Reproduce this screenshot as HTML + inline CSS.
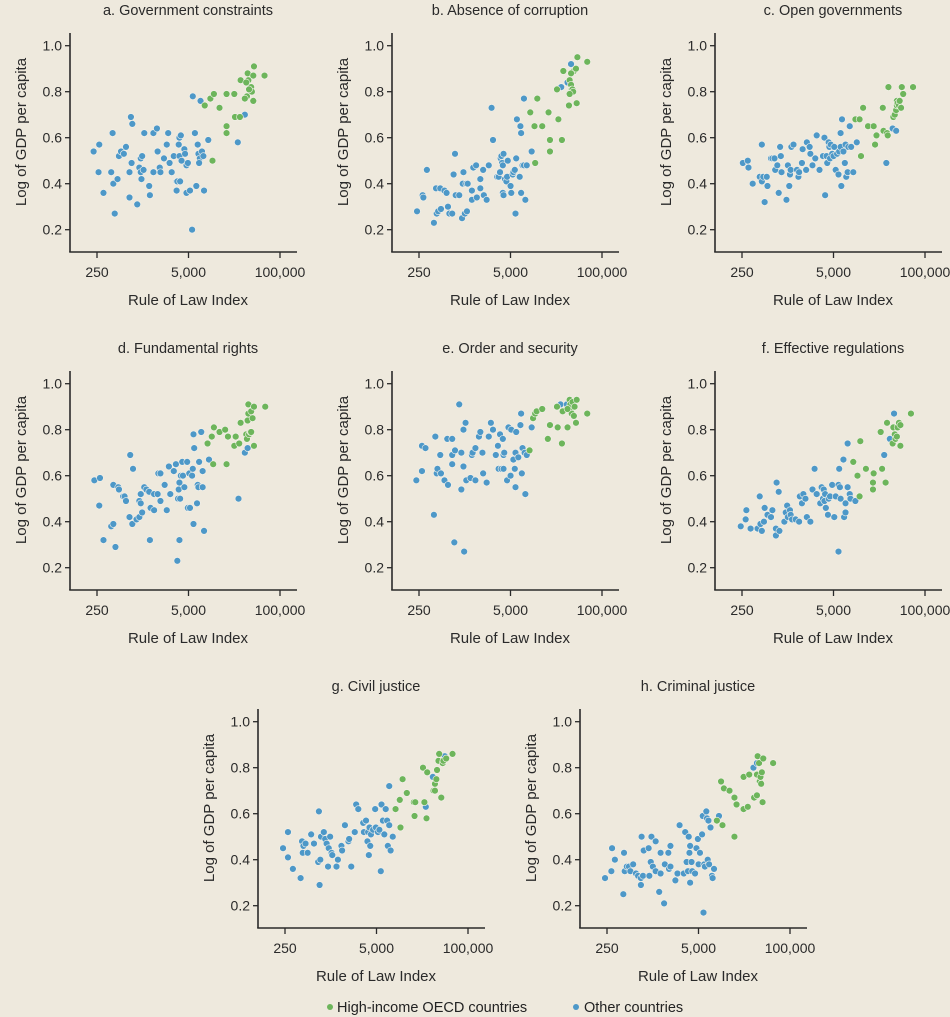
<!DOCTYPE html>
<html><head><meta charset="utf-8">
<style>
html,body{margin:0;padding:0;background:#eee9dd;}
svg{display:block;font-family:"Liberation Sans",sans-serif;}
</style></head>
<body>
<svg id="chart" width="950" height="1017" viewBox="0 0 950 1017">
<rect x="0" y="0" width="950" height="1017" fill="#eee9dd"/>
<g id="legend">
<circle cx="330" cy="1007" r="3" fill="#6db55b"/>
<text x="337" y="1012" font-size="14.5" fill="#222">High-income OECD countries</text>
<circle cx="576" cy="1007" r="3" fill="#4d98c8"/>
<text x="584" y="1012" font-size="14.5" fill="#222">Other countries</text>
</g>
</svg>
<script>
const panelTitles=["a. Government constraints","b. Absence of corruption","c. Open governments","d. Fundamental rights","e. Order and security","f. Effective regulations","g. Civil justice","h. Criminal justice"];
const yTicks=[0.2,0.4,0.6,0.8,1.0];
const yTickLabels=["0.2","0.4","0.6","0.8","1.0"];
const xTicks=[250,5000,100000];
const xTickLabels=["250","5,000","100,000"];
// points: [log10(Rule of Law Index), log of GDP per capita]
const otherA=[[2.35,.54],[2.43,.57],[2.42,.45],[2.49,.36],[2.60,.45],[2.62,.62],[2.63,.40],[2.65,.27],[2.69,.42],[2.71,.52],[2.74,.54],[2.78,.53],[2.81,.56],[2.86,.45],[2.88,.69],[2.90,.66],[2.86,.34],[2.89,.49],[2.97,.31],[3.00,.47],[3.02,.51],[3.02,.45],[3.03,.42],[3.04,.52],[3.06,.46],[3.07,.62],[3.14,.39],[3.15,.35],[3.20,.45],[3.20,.62],[3.25,.64],[3.26,.54],[3.29,.47],[3.30,.45],[3.35,.51],[3.39,.57],[3.41,.62],[3.43,.49],[3.49,.52],[3.46,.45],[3.53,.37],[3.53,.41],[3.54,.41],[3.56,.57],[3.57,.60],[3.57,.52],[3.58,.41],[3.60,.50],[3.59,.61],[3.64,.55],[3.65,.53],[3.67,.48],[3.67,.36],[3.72,.37],[3.69,.49],[3.79,.62],[3.83,.57],[3.84,.53],[3.86,.51],[3.85,.49],[3.89,.54],[3.91,.52],[3.92,.37],[3.98,.59],[3.76,.78],[3.87,.76],[3.75,.20],[4.50,.70],[4.40,.58],[3.81,.39]];
const oecdA=[[3.93,.74],[4.01,.77],[4.06,.79],[4.14,.73],[4.24,.79],[4.24,.65],[4.24,.62],[4.04,.50],[4.35,.79],[4.36,.69],[4.43,.69],[4.44,.85],[4.54,.88],[4.55,.85],[4.56,.81],[4.53,.78],[4.50,.77],[4.59,.82],[4.62,.87],[4.63,.91],[4.60,.80],[4.62,.76],[4.52,.84],[4.56,.81],[4.78,.87]];
const otherB=[[2.37,.28],[2.45,.35],[2.46,.34],[2.51,.46],[2.61,.23],[2.64,.38],[2.65,.27],[2.67,.28],[2.70,.38],[2.71,.29],[2.76,.37],[2.79,.36],[2.81,.30],[2.83,.27],[2.87,.27],[2.89,.44],[2.91,.53],[2.92,.35],[2.97,.35],[3.01,.25],[3.02,.40],[3.03,.45],[3.05,.27],[3.07,.40],[3.08,.28],[3.09,.40],[3.15,.37],[3.15,.33],[3.17,.47],[3.21,.48],[3.22,.34],[3.27,.42],[3.27,.38],[3.31,.46],[3.32,.35],[3.36,.33],[3.39,.48],[3.43,.73],[3.45,.59],[3.51,.43],[3.53,.43],[3.55,.45],[3.56,.51],[3.57,.52],[3.58,.49],[3.59,.48],[3.60,.53],[3.62,.42],[3.59,.36],[3.60,.35],[3.64,.41],[3.65,.43],[3.66,.50],[3.70,.39],[3.71,.36],[3.73,.44],[3.74,.45],[3.76,.46],[3.77,.27],[3.78,.51],[3.79,.68],[3.83,.43],[3.84,.65],[3.85,.62],[3.85,.36],[3.87,.48],[3.89,.48],[3.91,.33],[3.93,.48],[4.00,.54],[3.89,.77],[4.42,.82],[4.51,.84],[4.56,.92]];
const oecdB=[[4.05,.49],[4.08,.77],[3.98,.71],[4.04,.65],[4.15,.65],[4.24,.71],[4.26,.54],[4.26,.59],[4.38,.68],[4.43,.59],[4.36,.81],[4.45,.89],[4.53,.74],[4.54,.85],[4.56,.83],[4.57,.81],[4.58,.81],[4.59,.80],[4.60,.89],[4.63,.90],[4.64,.75],[4.65,.95],[4.79,.93],[4.56,.88],[4.54,.79]];
const otherC=[[2.41,.49],[2.48,.50],[2.49,.47],[2.55,.40],[2.65,.43],[2.68,.57],[2.68,.41],[2.70,.43],[2.72,.32],[2.75,.43],[2.76,.39],[2.81,.51],[2.83,.51],[2.86,.51],[2.87,.46],[2.90,.48],[2.92,.36],[2.94,.56],[2.95,.52],[2.96,.45],[3.03,.33],[3.05,.48],[3.07,.39],[3.08,.44],[3.09,.46],[3.10,.56],[3.13,.57],[3.18,.46],[3.20,.43],[3.21,.45],[3.25,.49],[3.26,.55],[3.31,.46],[3.32,.58],[3.36,.56],[3.37,.53],[3.40,.48],[3.44,.51],[3.46,.61],[3.50,.46],[3.55,.52],[3.57,.60],[3.58,.35],[3.60,.52],[3.61,.49],[3.63,.58],[3.64,.56],[3.65,.51],[3.66,.57],[3.68,.53],[3.70,.52],[3.71,.56],[3.73,.46],[3.75,.53],[3.77,.44],[3.78,.54],[3.80,.56],[3.80,.62],[3.81,.39],[3.82,.68],[3.84,.54],[3.86,.49],[3.87,.57],[3.88,.43],[3.90,.45],[3.91,.56],[3.93,.65],[3.95,.56],[3.98,.45],[4.03,.58],[4.45,.49],[4.54,.64],[4.59,.63]];
const oecdC=[[4.09,.52],[4.12,.73],[4.01,.68],[4.07,.68],[4.19,.65],[4.27,.65],[4.29,.57],[4.31,.61],[4.40,.73],[4.41,.63],[4.46,.62],[4.47,.61],[4.48,.82],[4.55,.69],[4.57,.70],[4.59,.72],[4.60,.76],[4.60,.74],[4.61,.75],[4.63,.74],[4.64,.76],[4.66,.73],[4.67,.82],[4.69,.79],[4.83,.82]];
const otherD=[[2.36,.58],[2.44,.59],[2.43,.47],[2.49,.32],[2.60,.38],[2.63,.39],[2.63,.56],[2.66,.29],[2.70,.55],[2.71,.54],[2.77,.51],[2.79,.51],[2.81,.49],[2.87,.69],[2.86,.42],[2.90,.39],[2.91,.63],[2.96,.41],[3.00,.42],[3.00,.49],[3.02,.52],[3.02,.48],[3.04,.44],[3.07,.55],[3.10,.54],[3.14,.53],[3.15,.32],[3.16,.46],[3.21,.45],[3.21,.52],[3.26,.52],[3.27,.61],[3.30,.61],[3.30,.49],[3.36,.56],[3.39,.45],[3.42,.64],[3.44,.52],[3.49,.62],[3.52,.65],[3.54,.23],[3.55,.50],[3.56,.54],[3.57,.32],[3.57,.57],[3.58,.50],[3.59,.60],[3.61,.66],[3.62,.60],[3.64,.55],[3.68,.66],[3.69,.46],[3.71,.61],[3.72,.46],[3.75,.60],[3.76,.63],[3.77,.39],[3.77,.78],[3.78,.72],[3.82,.48],[3.83,.56],[3.84,.55],[3.85,.66],[3.88,.79],[3.90,.55],[3.90,.62],[3.92,.36],[3.99,.67],[4.41,.50],[4.50,.70],[4.54,.72]];
const oecdD=[[3.97,.74],[4.03,.77],[4.05,.65],[4.06,.81],[4.14,.79],[4.22,.80],[4.24,.65],[4.26,.77],[4.35,.73],[4.37,.77],[4.42,.74],[4.44,.83],[4.52,.78],[4.53,.76],[4.54,.84],[4.55,.87],[4.55,.91],[4.56,.78],[4.58,.79],[4.59,.88],[4.59,.79],[4.61,.85],[4.63,.90],[4.63,.73],[4.79,.90]];
const otherE=[[2.36,.58],[2.44,.73],[2.44,.62],[2.49,.72],[2.61,.43],[2.63,.77],[2.65,.61],[2.66,.63],[2.70,.69],[2.71,.61],[2.76,.58],[2.80,.76],[2.81,.56],[2.87,.76],[2.87,.65],[2.87,.69],[2.90,.31],[2.91,.71],[2.97,.91],[3.00,.70],[3.00,.54],[3.03,.64],[3.03,.80],[3.04,.27],[3.06,.83],[3.07,.58],[3.13,.59],[3.15,.69],[3.16,.70],[3.20,.72],[3.20,.58],[3.25,.77],[3.27,.79],[3.30,.70],[3.31,.61],[3.36,.57],[3.39,.77],[3.42,.83],[3.45,.80],[3.49,.69],[3.52,.73],[3.53,.63],[3.55,.78],[3.57,.63],[3.59,.76],[3.60,.69],[3.60,.63],[3.61,.70],[3.65,.58],[3.67,.81],[3.70,.60],[3.71,.80],[3.74,.67],[3.76,.63],[3.77,.70],[3.77,.55],[3.78,.79],[3.81,.68],[3.84,.82],[3.85,.87],[3.86,.61],[3.87,.72],[3.90,.70],[3.91,.52],[3.93,.69],[4.00,.81],[4.41,.91],[4.50,.91]];
const oecdE=[[3.97,.71],[4.02,.85],[4.05,.87],[4.07,.88],[4.15,.89],[4.23,.76],[4.26,.82],[4.36,.90],[4.37,.81],[4.43,.74],[4.44,.88],[4.51,.81],[4.54,.93],[4.55,.91],[4.56,.88],[4.57,.87],[4.58,.92],[4.60,.86],[4.61,.90],[4.63,.83],[4.64,.93],[4.79,.87],[4.51,.89]];
const otherF=[[2.38,.38],[2.45,.41],[2.46,.45],[2.52,.37],[2.62,.37],[2.65,.51],[2.66,.39],[2.68,.36],[2.71,.40],[2.72,.46],[2.76,.43],[2.81,.42],[2.83,.45],[2.88,.34],[2.88,.37],[2.89,.57],[2.92,.53],[2.93,.36],[3.00,.40],[3.02,.44],[3.04,.47],[3.05,.42],[3.08,.45],[3.09,.43],[3.11,.41],[3.16,.41],[3.21,.40],[3.22,.51],[3.25,.48],[3.27,.52],[3.30,.50],[3.32,.42],[3.37,.40],[3.40,.54],[3.43,.63],[3.46,.52],[3.51,.48],[3.53,.55],[3.55,.50],[3.56,.54],[3.57,.49],[3.58,.52],[3.59,.46],[3.62,.43],[3.63,.50],[3.65,.51],[3.68,.56],[3.71,.42],[3.73,.51],[3.77,.56],[3.78,.63],[3.79,.55],[3.80,.50],[3.84,.67],[3.85,.42],[3.87,.44],[3.87,.48],[3.90,.74],[3.90,.55],[3.93,.52],[3.94,.50],[4.01,.49],[3.77,.27],[4.42,.69],[4.50,.76],[4.56,.87]];
const oecdF=[[3.98,.66],[4.04,.60],[4.07,.51],[4.08,.75],[4.16,.63],[4.26,.54],[4.26,.57],[4.27,.61],[4.37,.79],[4.39,.63],[4.44,.57],[4.46,.83],[4.54,.74],[4.55,.81],[4.57,.78],[4.58,.76],[4.60,.77],[4.61,.81],[4.63,.83],[4.65,.82],[4.65,.73],[4.80,.87]];
const otherG=[[2.37,.45],[2.44,.52],[2.44,.41],[2.51,.36],[2.62,.32],[2.64,.48],[2.65,.43],[2.66,.46],[2.69,.47],[2.72,.43],[2.77,.51],[2.81,.47],[2.87,.39],[2.88,.61],[2.89,.29],[2.90,.40],[2.91,.50],[2.95,.52],[2.97,.49],[2.99,.47],[3.01,.37],[3.02,.45],[3.04,.50],[3.06,.43],[3.07,.42],[3.13,.37],[3.15,.40],[3.20,.46],[3.21,.44],[3.25,.55],[3.30,.48],[3.31,.49],[3.34,.37],[3.39,.52],[3.41,.64],[3.44,.62],[3.51,.56],[3.52,.52],[3.55,.57],[3.57,.48],[3.58,.52],[3.59,.42],[3.60,.54],[3.61,.46],[3.62,.51],[3.65,.53],[3.68,.62],[3.69,.54],[3.72,.52],[3.74,.53],[3.76,.35],[3.77,.64],[3.79,.57],[3.81,.51],[3.83,.62],[3.85,.57],[3.86,.46],[3.88,.72],[3.88,.55],[3.90,.44],[3.93,.50],[4.40,.63],[4.50,.76],[4.67,.85]];
const oecdG=[[4.04,.54],[3.97,.62],[4.03,.66],[4.07,.75],[4.13,.69],[4.23,.65],[4.25,.65],[4.24,.59],[4.36,.80],[4.38,.65],[4.41,.58],[4.42,.78],[4.51,.70],[4.53,.73],[4.55,.75],[4.56,.79],[4.58,.83],[4.59,.86],[4.62,.67],[4.64,.82],[4.65,.83],[4.69,.84],[4.78,.86],[4.53,.70]];
const otherH=[[2.37,.32],[2.46,.35],[2.47,.45],[2.51,.40],[2.63,.25],[2.64,.43],[2.65,.35],[2.68,.37],[2.71,.37],[2.73,.35],[2.77,.38],[2.81,.34],[2.84,.33],[2.88,.32],[2.88,.29],[2.89,.50],[2.91,.33],[2.92,.44],[2.99,.45],[3.00,.33],[3.02,.39],[3.03,.50],[3.05,.37],[3.09,.48],[3.09,.35],[3.14,.26],[3.16,.43],[3.16,.34],[3.21,.21],[3.22,.38],[3.27,.43],[3.28,.36],[3.30,.37],[3.30,.46],[3.37,.31],[3.40,.34],[3.43,.55],[3.49,.34],[3.51,.52],[3.53,.39],[3.55,.35],[3.56,.50],[3.57,.43],[3.58,.30],[3.58,.46],[3.60,.39],[3.61,.35],[3.65,.34],[3.67,.45],[3.69,.49],[3.70,.38],[3.72,.43],[3.75,.51],[3.76,.59],[3.77,.17],[3.78,.38],[3.79,.37],[3.81,.61],[3.82,.58],[3.83,.40],[3.84,.57],[3.85,.38],[3.87,.54],[3.89,.33],[3.90,.32],[3.92,.36],[3.99,.59],[4.48,.80],[4.53,.82]];
const oecdH=[[3.96,.57],[4.04,.55],[4.02,.74],[4.06,.71],[4.14,.70],[4.21,.67],[4.21,.50],[4.24,.64],[4.34,.62],[4.34,.76],[4.40,.63],[4.42,.77],[4.49,.67],[4.53,.68],[4.53,.77],[4.54,.85],[4.56,.82],[4.57,.74],[4.58,.76],[4.59,.73],[4.60,.78],[4.61,.65],[4.62,.84],[4.76,.82]];

const otherSets=[otherA,otherB,otherC,otherD,otherE,otherF,otherG,otherH];
const oecdSets=[oecdA,oecdB,oecdC,oecdD,oecdE,oecdF,oecdG,oecdH];
const panelOrigins=[[0,0],[322,0],[645,0],[0,338],[322,338],[645,338],[188,676],[510,676]];

const NS="http://www.w3.org/2000/svg";
const svg=document.getElementById('chart');
const legend=document.getElementById('legend');
const X0=70,X1=297,Y0=33,YB=252;
function xScale(lg){return 97+(lg-Math.log10(250))*(183/(5-Math.log10(250)));}
function yScale(v){return 45.7+(1-v)*230;}
function mk(tag,attrs,parent){const e=document.createElementNS(NS,tag);for(const k in attrs)e.setAttribute(k,attrs[k]);parent.appendChild(e);return e;}
const BLUE="#4d98c8",GREEN="#6db55b",INK="#2a2a2a";
panelTitles.forEach((title,i)=>{
  const [ox,oy]=panelOrigins[i];
  const g=mk('g',{transform:`translate(${ox},${oy})`},svg);
  
  
  const t=mk('text',{x:188,y:15,'text-anchor':'middle','font-size':14.5,fill:INK},g);
  t.textContent=title;
  
  
  const ya=mk('line',{x1:X0,y1:Y0,x2:X0,y2:YB,stroke:INK,'stroke-width':1.6},g);
  
  
  const xa=mk('line',{x1:X0-0.8,y1:YB,x2:X1,y2:YB,stroke:INK,'stroke-width':1.6},g);
  
  
  yTicks.forEach((v,j)=>{
    const y=yScale(v);
    const tk=mk('line',{x1:X0-5,y1:y,x2:X0,y2:y,stroke:INK,'stroke-width':1.3},g);
    
    
    const lb=mk('text',{x:X0-8,y:y+5,'text-anchor':'end','font-size':14,fill:INK},g);
    lb.textContent=yTickLabels[j];
    
    
  });
  xTicks.forEach((v,j)=>{
    const x=xScale(Math.log10(v));
    const tk=mk('line',{x1:x,y1:YB,x2:x,y2:YB+6,stroke:INK,'stroke-width':1.3},g);
    
    
    const lb=mk('text',{x:x,y:YB+25,'text-anchor':'middle','font-size':14,fill:INK},g);
    lb.textContent=xTickLabels[j];
    
    
  });
  const xt=mk('text',{x:188,y:305,'text-anchor':'middle','font-size':15,fill:INK},g);
  xt.textContent="Rule of Law Index";
  
  
  const yt=mk('text',{x:0,y:0,'text-anchor':'middle','font-size':15,fill:INK,transform:'translate(26,132) rotate(-90)'},g);
  yt.textContent="Log of GDP per capita";
  
  
  otherSets[i].forEach(p=>{
    const c=mk('circle',{cx:xScale(p[0]),cy:yScale(p[1]),r:3.4,fill:BLUE,stroke:'#f4f1ea','stroke-width':0.6},g);
    
    
  });
  oecdSets[i].forEach(p=>{
    const c=mk('circle',{cx:xScale(p[0]),cy:yScale(p[1]),r:3.4,fill:GREEN,stroke:'#f4f1ea','stroke-width':0.6},g);
    
    
  });
});
svg.appendChild(legend);
</script>
</body></html>
